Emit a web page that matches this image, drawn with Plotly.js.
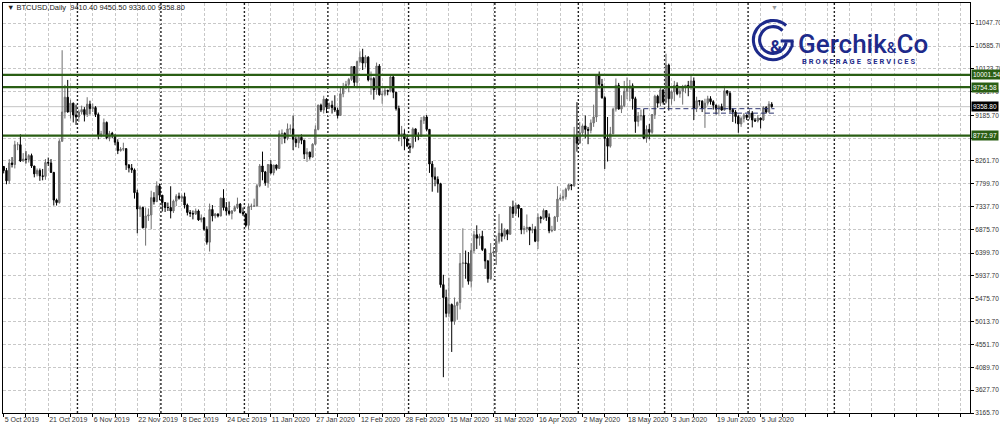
<!DOCTYPE html>
<html><head><meta charset="utf-8">
<script src="https://cdn.plot.ly/plotly-3.0.1.min.js"></script>
<style>html,body{margin:0;padding:0;background:#fff}#chart{width:1000px;height:429px}</style>
</head><body><div id="chart"></div>
<script>
// ---------- data ----------
const symbolTitle = 'BTCUSD,Daily';
const lastOHLC = [9410.40, 9450.50, 9336.00, 9358.80];
const firstDate = '2019-10-05';
const closedDays = ['2019-12-25', '2020-01-01'];
const chartEnd = '2020-09-18';

// [open, high, low, close]
const ohlcOct2019 = [[8150,8160,8010,8070],[8070,8120,7790,7860],[7860,8300,7800,8220],[8220,8340,8130,8190],[8190,8670,8110,8590],[8590,8640,8480,8590],[8590,8800,8240,8260],[8260,8420,8250,8300],[8300,8460,8210,8290],[8290,8400,8230,8370],[8370,8410,8120,8160],[8160,8160,7930,8000],[8000,8110,7950,8070],[8070,8110,7860,7960],[7960,8100,7870,7950],[7950,8300,7880,8230],[8230,8330,8160,8220],[8220,8300,8020,8030],[8030,8040,7360,7470],[7470,7500,7360,7420],[7420,8700,7400,8660],[8660,10500,8650,9250],[9250,9800,9120,9550],[9550,9900,9240,9250],[9250,9500,9120,9430],[9430,9440,9040,9190],[9190,9400,8990,9150]];
const ohlcNov2019 = [[9150,9300,9050,9250],[9250,9380,9200,9300],[9300,9350,9060,9200],[9200,9550,9150,9410],[9410,9480,9200,9320],[9320,9420,9250,9340],[9340,9370,9150,9200],[9200,9240,8700,8780],[8780,8870,8740,8810],[8810,9120,8760,9040],[9040,9060,8700,8730],[8730,8870,8660,8820],[8820,8850,8720,8780],[8780,8800,8580,8640],[8640,8700,8400,8470],[8470,8540,8450,8500],[8500,8630,8460,8510],[8510,8520,8080,8180],[8180,8200,8030,8120],[8120,8200,8020,8080],[8080,8110,7500,7620],[7620,7680,6800,7290],[7290,7360,7130,7320],[7320,7340,6900,6910],[6910,7320,6550,7150],[7150,7300,7050,7170],[7170,7660,6880,7520],[7520,7630,7380,7440],[7440,7850,7430,7760],[7760,7800,7470,7570]];
const ohlcDec2019 = [[7570,7570,7240,7420],[7420,7430,7230,7320],[7320,7420,7250,7320],[7320,7750,7100,7250],[7250,7480,7210,7450],[7450,7590,7350,7550],[7550,7620,7480,7510],[7510,7580,7430,7540],[7540,7620,7300,7370],[7370,7400,7160,7220],[7220,7270,7130,7200],[7200,7260,7080,7190],[7190,7300,7170,7250],[7250,7280,7050,7070],[7070,7180,7020,7110],[7110,7130,6850,6880],[6880,6940,6570,6620],[6620,7400,6430,7280],[7280,7370,7040,7150],[7150,7210,7100,7190],[7190,7200,7120,7150],[7150,7520,7140,7510],[7510,7690,7260,7320],[7320,7430,7160,7250],[7250,7440,7160,7200],[7200,7270,7080,7250],[7250,7360,7240,7320],[7320,7520,7290,7390],[7390,7410,7200,7220],[7220,7320,7150,7190]];
const ohlcJan2020 = [[7190,7210,6920,6960],[6960,7400,6870,7340],[7340,7400,7270,7350],[7350,7500,7330,7350],[7350,7800,7340,7760],[7760,8200,7730,8160],[8160,8450,7870,8040],[8040,8060,7760,7820],[7820,8200,7720,8190],[8190,8280,7990,8020],[8020,8180,7970,8180],[8180,8190,8070,8110],[8110,8880,8100,8810],[8810,8900,8600,8820],[8820,8840,8620,8720],[8720,9020,8680,8910],[8910,9000,8810,8910],[8910,9180,8480,8700],[8700,8750,8540,8630],[8630,8780,8520,8740],[8740,8800,8600,8680],[8680,8690,8300,8400],[8400,8520,8240,8440],[8440,8450,8290,8340],[8340,8620,8330,8600],[8600,8980,8580,8900],[8900,9400,8880,9390],[9390,9420,9250,9290],[9290,9580,9220,9510],[9510,9530,9230,9350]];
const ohlcFeb2020 = [[9350,9440,9310,9390],[9390,9480,9220,9340],[9340,9590,9250,9290],[9290,9340,9120,9180],[9180,9740,9170,9620],[9620,9840,9550,9740],[9740,9880,9710,9810],[9810,9940,9650,9910],[9910,10180,9880,10170],[10170,10180,9750,9850],[9850,10290,9730,10270],[10270,10480,10240,10360],[10360,10530,10100,10240],[10240,10400,10150,10360],[10360,10380,9870,9900],[9900,10070,9600,9930],[9930,9960,9500,9700],[9700,10250,9600,10180],[10180,10220,9580,9600],[9600,9680,9420,9610],[9610,9760,9570,9690],[9690,9700,9590,9670],[9670,9990,9650,9960],[9960,10000,9530,9650],[9650,9660,9280,9320],[9320,9380,8660,8790],[8790,8970,8560,8810],[8810,8900,8480,8710],[8710,8800,8560,8560]];
const ohlcMar2020 = [[8560,8620,8420,8540],[8540,8940,8510,8910],[8910,8920,8650,8760],[8760,8840,8680,8760],[8760,9150,8750,9080],[9080,9170,9010,9150],[9150,9190,8860,8900],[8900,8900,8020,8200],[8200,8260,7640,7940],[7940,8130,7750,7890],[7890,7950,7620,7800],[7800,7820,5700,5760],[5760,5960,3890,5500],[5500,5660,5100,5180],[5180,5900,5100,5360],[5360,5380,4400,5020],[5020,5500,4950,5340],[5340,5420,5050,5400],[5400,6400,5260,6190],[6190,6900,5700,6200],[6200,6450,5880,6190],[6190,6420,5760,5830],[5830,6600,5700,6450],[6450,6850,6400,6770],[6770,6960,6480,6700],[6700,6790,6550,6740],[6740,6850,6440,6470],[6470,6500,6080,6240],[6240,6260,5800,5880],[5880,6600,5860,6400],[6400,6520,6330,6420]];
const ohlcApr2020 = [[6420,6750,6160,6640],[6640,7190,6590,6800],[6800,7000,6630,6740],[6740,6900,6680,6860],[6860,6880,6660,6780],[6780,7350,6770,7330],[7330,7460,7110,7200],[7200,7420,7150,7370],[7370,7380,7120,7300],[7300,7310,6780,6870],[6870,6950,6780,6890],[6890,7180,6820,6920],[6920,6920,6560,6860],[6860,6990,6800,6880],[6880,6940,6620,6640],[6640,7200,6480,7120],[7120,7150,7000,7100],[7100,7300,7070,7260],[7260,7260,7050,7120],[7120,7200,6800,6850],[6850,6950,6820,6860],[6860,7150,6850,7130],[7130,7750,7030,7490],[7490,7580,7460,7510],[7510,7680,7450,7540],[7540,7720,7480,7690],[7690,7800,7660,7780],[7780,7790,7670,7760],[7760,8950,7740,8780],[8780,9450,8450,8620]];
const ohlcMay2020 = [[8620,9050,8620,8830],[8830,9000,8770,8970],[8970,9180,8720,8900],[8900,8950,8600,8880],[8880,9100,8820,9030],[9030,9400,8950,9150],[9150,10000,9050,9990],[9990,10070,9730,9810],[9810,9920,9520,9540],[9540,9570,8100,8720],[8720,9150,8250,8560],[8560,8950,8530,8810],[8810,9340,8800,9310],[9310,9930,9260,9790],[9790,9840,9300,9310],[9310,9590,9230,9380],[9380,9880,9350,9670],[9670,9950,9510,9730],[9730,9900,9470,9780],[9780,9830,9300,9520],[9520,9560,8830,9060],[9060,9250,8960,9170],[9170,9300,9080,9180],[9180,9310,8700,8720],[8720,8980,8630,8900],[8900,9010,8700,8840],[8840,9210,8810,9200],[9200,9600,9110,9570],[9570,9600,9340,9430],[9430,9740,9370,9700],[9700,9700,9400,9450]];
const ohlcJun2020 = [[9450,10430,9420,10200],[10200,10230,9280,9520],[9520,9690,9400,9660],[9660,9880,9470,9790],[9790,9850,9590,9620],[9620,9730,9540,9670],[9670,9800,9400,9750],[9750,9800,9630,9790],[9790,9880,9570,9770],[9770,9990,9700,9880],[9880,9950,9090,9320],[9320,9560,9250,9480],[9480,9490,9380,9470],[9470,9490,9250,9330],[9330,9520,8930,9430],[9430,9580,9380,9520],[9520,9570,9400,9460],[9460,9490,9300,9390],[9390,9400,9200,9310],[9310,9400,9200,9360],[9360,9420,9280,9290],[9290,9780,9280,9680],[9680,9690,9580,9630],[9630,9670,9240,9300],[9300,9330,9050,9250],[9250,9290,9020,9160],[9160,9190,8830,9010],[9010,9160,8950,9120],[9120,9230,9040,9190],[9190,9200,9090,9140]];
const ohlcJul2020 = [[9140,9300,9100,9230],[9230,9270,8940,9090],[9090,9130,9050,9070],[9070,9190,9040,9130],[9130,9140,8920,9090],[9090,9370,9070,9340],[9340,9370,9220,9250],[9250,9470,9240,9410.4],[9410.4,9450.5,9336.0,9358.8]];

const levelLines = [10001.54, 9754.58, 8772.97];
const bidPrice = 9358.80;
const priceTicks = [11047.70, 10585.70, 10123.70, 9661.70, 9185.70, 8723.70, 8261.70, 7799.70, 7337.70, 6875.70, 6399.70, 5937.70, 5475.70, 5013.70, 4551.70, 4089.70, 3627.70, 3165.70];
const hiddenPriceTicks = [8723.70];
const monthSeparators = ['2019-10-31 12:00','2019-11-30 12:00','2019-12-31 12:00','2020-01-31 12:00','2020-02-29 12:00','2020-03-31 12:00','2020-04-30 12:00','2020-05-31 12:00','2020-06-30 12:00','2020-07-31 12:00'];
const dashedLevels = [{from:'2020-05-21', to:'2020-07-10', price:9318}, {from:'2020-06-15', to:'2020-07-10', price:9228}];
const monthNames = ['Jan','Feb','Mar','Apr','May','Jun','Jul','Aug','Sep','Oct','Nov','Dec'];

// ---------- build ----------
const bars = [].concat(ohlcOct2019, ohlcNov2019, ohlcDec2019, ohlcJan2020, ohlcFeb2020, ohlcMar2020, ohlcApr2020, ohlcMay2020, ohlcJun2020, ohlcJul2020);
const iso = d => d.toISOString().slice(0,10);
const allDates = [];
let cur = new Date(firstDate + 'T00:00:00Z');
const endD = new Date(chartEnd + 'T00:00:00Z');
while (cur <= endD) { const s = iso(cur); if (!closedDays.includes(s)) allDates.push(s); cur.setUTCDate(cur.getUTCDate()+1); }
const dates = allDates.slice(0, bars.length);
const fmtDate = s => { const d = new Date(s + 'T00:00:00Z'); return d.getUTCDate() + ' ' + monthNames[d.getUTCMonth()] + ' ' + d.getUTCFullYear(); };
const gridVals = [], gridText = [];
allDates.forEach((s,i) => { if (i % 8 === 0) { gridVals.push(s); gridText.push((i % 16 === 0 && i < dates.length) ? fmtDate(s) : ''); } });

const trace = {
  type: 'candlestick', x: dates,
  open: bars.map(b=>b[0]), high: bars.map(b=>b[1]), low: bars.map(b=>b[2]), close: bars.map(b=>b[3]),
  increasing: {line:{color:'#6f6f6f', width:1}, fillcolor:'#8f8f8f'},
  decreasing: {line:{color:'#000000', width:1}, fillcolor:'#000000'},
  whiskerwidth: 0, hoverinfo: 'skip', showlegend: false
};

const axisFont = {family:'Liberation Sans, Arial, sans-serif', size:7, color:'#333'};
const yFont = {family:'Liberation Sans, Arial, sans-serif', size:6.5, color:'#333'};
const navy = '#1d2a8a';
const shapes = [];
monthSeparators.forEach(s => shapes.push({type:'line', xref:'x', yref:'paper', x0:s, x1:s, y0:0, y1:1, layer:'below', line:{color:'#222', width:1.4, dash:'2px,2px'}}));
shapes.push({type:'line', xref:'paper', yref:'y', x0:0, x1:1, y0:bidPrice, y1:bidPrice, layer:'below', line:{color:'#c4c4c4', width:1}});
dashedLevels.forEach(l => shapes.push({type:'line', xref:'x', yref:'y', x0:l.from, x1:l.to, y0:l.price, y1:l.price, line:{color:'#2c3470', width:1, dash:'5px,3px'}}));
levelLines.forEach(v => shapes.push({type:'line', xref:'paper', yref:'y', x0:0, x1:1, y0:v, y1:v, line:{color:'#2a5e14', width:2.2}}));

const boxFont = {family:'Liberation Sans, Arial, sans-serif', size:6.5, color:'#fff'};
const annotations = [];
levelLines.forEach(v => annotations.push({xref:'paper', yref:'y', x:1, y:v, xanchor:'left', xshift:1, text:v.toFixed(2), showarrow:false, bgcolor:'#2a5e14', borderpad:1, font:boxFont}));
annotations.push({xref:'paper', yref:'y', x:1, y:bidPrice, xanchor:'left', xshift:1, text:bidPrice.toFixed(2), showarrow:false, bgcolor:'#000', borderpad:1, font:boxFont});
annotations.push({xref:'paper', yref:'paper', x:0.002, y:0.988, xanchor:'left', yanchor:'middle', showarrow:false,
  text:'▼ ' + symbolTitle + '&nbsp;&nbsp;' + lastOHLC.map(v=>v.toFixed(2)).join(' '), font:{family:'Liberation Sans, Arial, sans-serif', size:7.5, color:'#222'}});
annotations.push({xref:'x', yref:'paper', x:'2020-07-10', y:1.004, yanchor:'top', showarrow:false, text:'▼', font:{size:7, color:'#999'}});
// logo texts
annotations.push({xref:'paper', yref:'paper', x:0.7995, y:0.895, xanchor:'center', yanchor:'middle', showarrow:false, text:'<b>&amp;</b>', font:{family:'Roboto, sans-serif', size:18, color:navy}});
annotations.push({xref:'paper', yref:'paper', x:0.8205, y:0.9, xanchor:'left', yanchor:'middle', showarrow:false,
  text:'Gerchik<span style="font-size:15px">&amp;</span>Co', font:{family:'Roboto, sans-serif', size:26, color:navy, weight:500}});
annotations.push({xref:'paper', yref:'paper', x:0.8242, y:0.858, xanchor:'left', yanchor:'middle', showarrow:false,
  text:'<b><span style="letter-spacing:2px">BROKERAGE SERVICES</span></b>', font:{family:'Roboto, sans-serif', size:7.5, color:navy}});

const markSvg = '<svg xmlns="http://www.w3.org/2000/svg" viewBox="0 0 46 46" width="46" height="46">' +
  '<g fill="none" stroke="' + navy + '" stroke-width="3.2">' +
  '<path d="M 36.7 7.8 A 20.5 20.5 0 1 0 42.3 30"/>' +
  '<path d="M 32.9 13.1 A 14 14 0 1 0 36.8 25.4"/>' +
  '<path d="M 31 24 H 44.5"/>' +
  '<path d="M 42.9 24 V 30.5"/>' +
  '</g></svg>';

const layout = {
  width:1000, height:429, autosize:false,
  margin:{l:3, r:30, t:3, b:16, pad:0},
  paper_bgcolor:'#fff', plot_bgcolor:'#fff', showlegend:false,
  xaxis:{type:'date', range:['2019-10-04 18:00','2020-09-18 06:00'], rangeslider:{visible:false},
    rangebreaks:[{values:closedDays}],
    tickmode:'array', tickvals:gridVals, ticktext:gridText, ticklabelposition:'outside right', tickangle:0,
    ticks:'outside', ticklen:3, tickcolor:'#000', tickfont:axisFont,
    showgrid:true, gridcolor:'#c8c8c8', griddash:'3px,2px', gridwidth:1,
    showline:true, linecolor:'#000', linewidth:1, mirror:true, zeroline:false, fixedrange:true},
  yaxis:{side:'right', range:[3165.7, 11455], tickmode:'array', tickvals:priceTicks,
    ticktext:priceTicks.map(v=>hiddenPriceTicks.includes(v) ? '' : v.toFixed(2)),
    ticks:'outside', ticklen:3, tickcolor:'#000', tickfont:yFont,
    showgrid:true, gridcolor:'#c8c8c8', griddash:'3px,2px', gridwidth:1,
    showline:true, linecolor:'#000', linewidth:1, mirror:true, zeroline:false, fixedrange:true},
  shapes:shapes, annotations:annotations,
  images:[{source:'data:image/svg+xml;utf8,' + encodeURIComponent(markSvg), xref:'paper', yref:'paper',
    x:0.7963, y:0.9097, sizex:0.0455, sizey:0.1073, xanchor:'center', yanchor:'middle', sizing:'stretch', layer:'above'}]
};

Plotly.newPlot('chart', [trace], layout, {displayModeBar:false, staticPlot:true});
</script></body></html>
